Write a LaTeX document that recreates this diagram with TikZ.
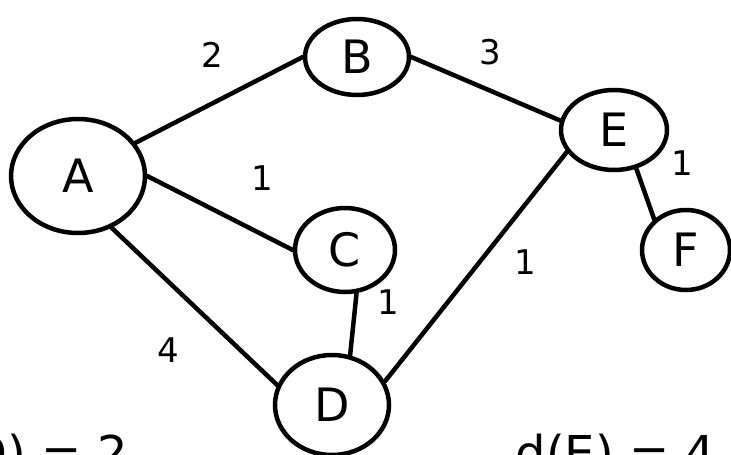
\documentclass[tikz,border=0pt]{standalone}
\usepackage{fontspec}
\setmainfont{DejaVu Sans}
\usetikzlibrary{shapes.geometric}
\begin{document}
\begin{tikzpicture}[x=1pt,y=-1pt,
  vert/.style={draw,ellipse,line width=4.5pt,inner sep=0pt,font=\fontsize{46}{46}\selectfont},
  edge/.style={line width=4.5pt,line cap=round},
  wlab/.style={font=\fontsize{34}{34}\selectfont},
  btext/.style={font=\fontsize{48}{48}\selectfont,anchor=base west}]
\useasboundingbox (0,0) rectangle (731,455);
\clip (0,0) rectangle (731,455);
\node[vert,minimum width=134pt,minimum height=114pt] (A) at (78,176) {A};
\node[vert,minimum width=104pt,minimum height=76pt] (B) at (357,57) {B};
\node[vert,minimum width=100pt,minimum height=84pt] (C) at (345,250) {C};
\node[vert,minimum width=114pt,minimum height=100pt] (D) at (332,405) {D};
\node[vert,minimum width=106pt,minimum height=80pt] (E) at (614,130) {E};
\node[vert,minimum width=88pt,minimum height=80pt] (F) at (686,250) {F};
\draw[edge] (A.30) -- (B.west);
\draw[edge] (B.east) -- (E.170);
\draw[edge] (A.east) -- (C.west);
\draw[edge] (C.-75) -- (D.70);
\draw[edge] (A.-57) -- (D.160);
\draw[edge] (D.24) -- (E.205);
\draw[edge] (E.-60) -- (F.136);
\node[wlab] (w1) at (212,55) {2};
\node[wlab] (w2) at (490,52) {3};
\node[wlab] (w3) at (262,178) {1};
\node[wlab] (w4) at (388,302) {1};
\node[wlab] (w5) at (168,350) {4};
\node[wlab] (w6) at (525,262) {1};
\node[wlab] (w7) at (682,163) {1};
\node[btext] (t1) at (-82,470) {d(D) = 2};
\node[btext] (t2) at (512,470) {d(E) = 4};
\end{tikzpicture}
\end{document}
